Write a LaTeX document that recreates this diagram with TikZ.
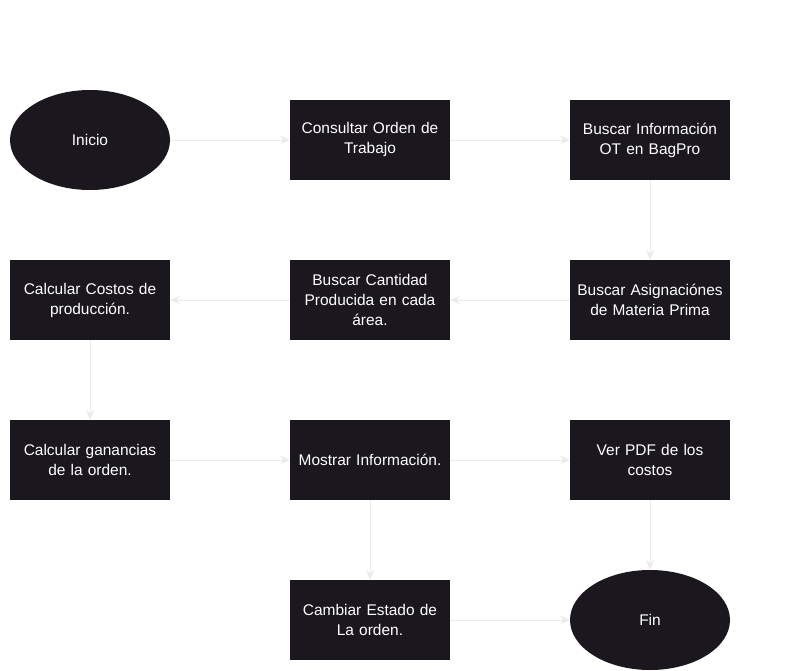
\documentclass[tikz,border=0pt]{standalone}
\usepackage{fontspec}
\setmainfont{Liberation Sans}
\usetikzlibrary{shapes.geometric,arrows.meta}
\definecolor{boxfill}{HTML}{1A171E}
\definecolor{linkc}{HTML}{EBEBEB}
\begin{document}
\begin{tikzpicture}[x=0.75pt,y=-0.75pt,
  stepbox/.style={rectangle,fill=boxfill,text=white,minimum width=120pt,minimum height=60pt,align=center,font=\fontsize{11.6}{15}\selectfont,inner sep=0pt,text width=118pt},
  termbox/.style={ellipse,fill=boxfill,text=white,minimum width=120pt,minimum height=75pt,inner sep=0pt,font=\fontsize{11.6}{15}\selectfont},
  link/.style={draw=linkc,line width=0.75pt,-{Stealth[length=7pt,width=6pt]}}]
\useasboundingbox (0,0) rectangle (790,671);
\fill[white] (0,0) rectangle (790,671);
\node[termbox] (inicio) at (90,140) {Inicio};
\node[stepbox] (consultar) at (370,140) {Consultar Orden de\\Trabajo};
\node[stepbox] (buscarinfo) at (650,140) {Buscar Información\\OT en BagPro};
\node[stepbox] (costos) at (90,300) {Calcular Costos de\\producción.};
\node[stepbox] (cantidad) at (370,300) {Buscar Cantidad\\Producida en cada\\área.};
\node[stepbox] (asign) at (650,300) {Buscar Asignaciónes\\de Materia Prima};
\node[stepbox] (ganancias) at (90,460) {Calcular ganancias\\de la orden.};
\node[stepbox] (mostrar) at (370,460) {Mostrar Información.};
\node[stepbox] (pdf) at (650,460) {Ver PDF de los\\costos};
\node[stepbox] (cambiar) at (370,620) {Cambiar Estado de\\La orden.};
\node[termbox] (fin) at (650,620) {Fin};
\draw[link] (inicio) -- (consultar);
\draw[link] (consultar) -- (buscarinfo);
\draw[link] (buscarinfo) -- (asign);
\draw[link] (asign) -- (cantidad);
\draw[link] (cantidad) -- (costos);
\draw[link] (costos) -- (ganancias);
\draw[link] (ganancias) -- (mostrar);
\draw[link] (mostrar) -- (pdf);
\draw[link] (mostrar) -- (cambiar);
\draw[link] (pdf) -- (fin);
\draw[link] (cambiar) -- (fin);
\end{tikzpicture}
\end{document}
